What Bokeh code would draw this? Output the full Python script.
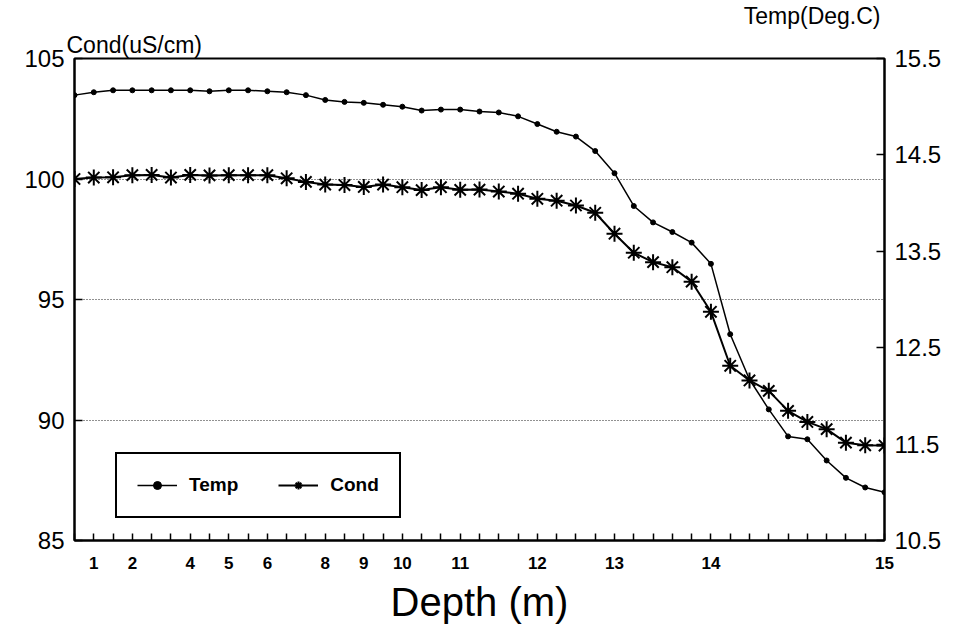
from bokeh.plotting import figure
from bokeh.models import LinearAxis, Range1d, FixedTicker, Legend, LegendItem, Title
from bokeh.embed import file_html
from bokeh.resources import INLINE

# measurement number along the profile (x position of each sample)
sample = list(range(43))

temp = [15.12, 15.15, 15.17, 15.17, 15.17, 15.17, 15.17, 15.16, 15.17, 15.17,
        15.16, 15.15, 15.12, 15.07, 15.05, 15.04, 15.02, 15.00, 14.96, 14.97,
        14.97, 14.95, 14.94, 14.90, 14.82, 14.74, 14.69, 14.54, 14.31, 13.97,
        13.80, 13.70, 13.59, 13.37, 12.64, 12.17, 11.86, 11.58, 11.55, 11.33,
        11.15, 11.05, 11.00]

cond = [100.00, 100.06, 100.07, 100.16, 100.17, 100.06, 100.17, 100.15, 100.16, 100.16,
        100.16, 100.03, 99.88, 99.77, 99.75, 99.67, 99.77, 99.66, 99.54, 99.66,
        99.55, 99.56, 99.48, 99.39, 99.18, 99.10, 98.90, 98.60, 97.73, 96.94,
        96.55, 96.34, 95.74, 94.49, 92.25, 91.64, 91.21, 90.38, 89.92, 89.62,
        89.06, 88.95, 88.94]

depth_tick_pos = [1, 3, 6, 8, 10, 13, 15, 17, 20, 24, 28, 33, 42]
depth_tick_labels = ["1", "2", "4", "5", "6", "8", "9", "10", "11", "12", "13", "14", "15"]
cond_ticks = [85, 90, 95, 100, 105]
temp_ticks = [10.5, 11.5, 12.5, 13.5, 14.5, 15.5]
grid_levels = [90, 95, 100]

FONT = "Liberation Sans"

p = figure(width=961, height=635, output_backend="svg", toolbar_location=None,
           x_range=Range1d(0, 42), y_range=Range1d(85, 105),
           min_border_left=74, min_border_right=77, min_border_top=52, min_border_bottom=95)
p.extra_y_ranges = {"temp": Range1d(10.5, 15.5)}
p.outline_line_color = "black"
p.outline_line_width = 2
p.outline_line_alpha = 1
p.background_fill_color = "white"
p.border_fill_color = "white"

p.xgrid.visible = False
p.ygrid.ticker = FixedTicker(ticks=grid_levels)
p.ygrid.grid_line_color = "#222222"
p.ygrid.grid_line_dash = "1 2"
p.ygrid.grid_line_width = 1

# bottom axis
xa = p.xaxis[0]
xa.ticker = FixedTicker(ticks=sample)
overrides = {i: "" for i in sample}
for pos, lab in zip(depth_tick_pos, depth_tick_labels):
    overrides[pos] = lab
xa.major_label_overrides = overrides
xa.major_tick_in = 7
xa.major_tick_out = 0
xa.minor_tick_line_color = None
xa.axis_line_width = 2
xa.axis_line_color = "black"
xa.major_tick_line_color = "black"
xa.major_tick_line_width = 1.5
xa.major_label_text_font = FONT
xa.major_label_text_font_style = "bold"
xa.major_label_text_font_size = "17px"
xa.major_label_text_color = "black"
xa.major_label_standoff = 16
xa.axis_label = "Depth (m)"
xa.axis_label_text_font = FONT
xa.axis_label_text_font_style = "normal"
xa.axis_label_text_font_size = "40px"
xa.axis_label_text_color = "black"
xa.axis_label_standoff = 8

# left axis (conductivity)
ya = p.yaxis[0]
ya.ticker = FixedTicker(ticks=cond_ticks)
ya.major_tick_in = 8
ya.major_tick_out = 0
ya.minor_tick_line_color = None
ya.axis_line_width = 2
ya.axis_line_color = "black"
ya.major_tick_line_color = "black"
ya.major_tick_line_width = 1.5
ya.major_label_text_font = FONT
ya.major_label_text_font_size = "24px"
ya.major_label_text_color = "black"
ya.major_label_standoff = 10

# right axis (temperature)
ra = LinearAxis(y_range_name="temp", ticker=FixedTicker(ticks=temp_ticks))
ra.major_tick_in = 8
ra.major_tick_out = 0
ra.minor_tick_line_color = None
ra.axis_line_width = 2
ra.axis_line_color = "black"
ra.major_tick_line_color = "black"
ra.major_tick_line_width = 1.5
ra.major_label_text_font = FONT
ra.major_label_text_font_size = "24px"
ra.major_label_text_color = "black"
ra.major_label_standoff = 10
p.add_layout(ra, "right")

r_t_line = p.line(sample, temp, y_range_name="temp", line_color="black", line_width=1.5)
r_t_pts = p.scatter(sample, temp, y_range_name="temp", marker="circle", size=5,
                    fill_color="black", line_color="black")
r_c_line = p.line(sample, cond, line_color="black", line_width=2)
r_c_pts = p.scatter(sample, cond, marker="asterisk", size=16, line_color="black", line_width=2)

legend = Legend(items=[LegendItem(label="Temp", renderers=[r_t_line, r_t_pts]),
                       LegendItem(label="Cond", renderers=[r_c_line, r_c_pts])],
                location=(41, 22), orientation="horizontal",
                border_line_color="black", border_line_width=2, border_line_alpha=1,
                background_fill_color="white", background_fill_alpha=1,
                label_text_font=FONT, label_text_font_style="bold", label_text_font_size="19px",
                label_text_color="black",
                glyph_width=40, glyph_height=20, label_standoff=12, spacing=40,
                padding=20, margin=0)
p.add_layout(legend)

t_cond = Title(text="Cond(uS/cm)", align="left", offset=-8, text_font=FONT,
               text_font_size="23px", text_font_style="normal", text_color="black",
               standoff=2)
t_temp = Title(text="Temp(Deg.C)", align="right", offset=4, text_font=FONT,
               text_font_size="23px", text_font_style="normal", text_color="black",
               standoff=0)
p.add_layout(t_cond, "above")
p.add_layout(t_temp, "above")

open("out.html", "w").write(file_html(p, INLINE))
